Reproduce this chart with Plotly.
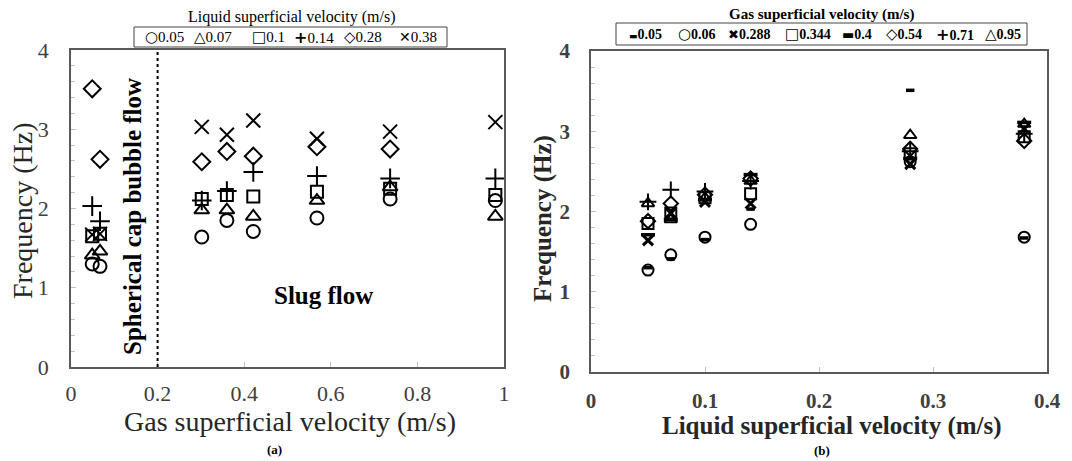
import plotly.graph_objects as go

# ---------------- data: panel (a) -- x = gas superficial velocity ----------------
gas_x_a = [0.049, 0.067, 0.302, 0.36, 0.421, 0.568, 0.737, 0.98]
liq_labels = ["0.05", "0.07", "0.1", "0.14", "0.28", "0.38"]
freq_liq_005 = [1.30, 1.27, 1.64, 1.85, 1.71, 1.88, 2.12, 2.10]
freq_liq_007 = [1.41, 1.46, 1.98, 1.98, 1.90, 2.10, 2.27, 1.90]
freq_liq_010 = [1.65, 1.68, 2.12, 2.17, 2.15, 2.21, 2.25, 2.17]
freq_liq_014 = [2.03, 1.84, 2.10, 2.22, 2.46, 2.41, 2.38, 2.38]
freq_liq_028 = [3.51, 2.62, 2.59, 2.72, 2.66, 2.78, 2.75, None]
freq_liq_038 = [1.67, 1.68, 3.03, 2.93, 3.11, 2.88, 2.97, 3.09]

# ---------------- data: panel (b) -- x = liquid superficial velocity ----------------
liq_x_b = [0.05, 0.07, 0.1, 0.14, 0.28, 0.38]
gas_labels = ["0.05", "0.06", "0.288", "0.344", "0.4", "0.54", "0.71", "0.95"]
freq_gas_005 = [1.30, 1.41, 1.65, 2.03, 3.51, 1.67]
freq_gas_006 = [1.27, 1.46, 1.68, 1.84, 2.62, 1.68]
freq_gas_0288 = [1.64, 1.98, 2.12, 2.10, 2.59, 3.03]
freq_gas_0344 = [1.85, 1.98, 2.17, 2.22, 2.72, 2.93]
freq_gas_04 = [1.71, 1.90, 2.15, 2.46, 2.66, 3.11]
freq_gas_054 = [1.88, 2.10, 2.21, 2.41, 2.78, 2.88]
freq_gas_071 = [2.12, 2.27, 2.25, 2.38, 2.75, 2.97]
freq_gas_095 = [2.10, 1.90, 2.17, 2.38, 2.95, 3.09]

SERIF = "Liberation Serif, Times New Roman, serif"
SYMF = "DejaVu Sans"
W, H = 1072, 461

fig = go.Figure()

series_a = [freq_liq_005, freq_liq_007, freq_liq_010, freq_liq_014, freq_liq_028, freq_liq_038]
symbols_a = ["circle-open", "triangle-up-open", "square-open", "cross-thin-open", "diamond-open", "x-thin-open"]
glyphs_a = ["○", "△", "□", "+", "◇", "✕"]
glyph_sizes_a = [15, 15, 15, 16, 15, 14]
sizes_a = [13, 13, 12, 14, 13, 14]
for lab, ys, sym, sz in zip(liq_labels, series_a, symbols_a, sizes_a):
    fig.add_trace(go.Scatter(
        x=gas_x_a, y=ys, mode="markers", name=lab,
        marker=dict(symbol=sym, size=sz, color="black", line=dict(color="black", width=2)),
        xaxis="x", yaxis="y"))

series_b = [freq_gas_005, freq_gas_006, freq_gas_0288, freq_gas_0344, freq_gas_04,
            freq_gas_054, freq_gas_071, freq_gas_095]
symbols_b = ["line-ew-open", "circle-open", "x-thin-open", "square-open", "line-ew-open",
             "diamond-open", "cross-thin-open", "triangle-up-open"]
glyphs_b = ["▬", "○", "✖", "□", "▬", "◇", "+", "△"]
glyph_sizes_b = [9, 15, 13, 15, 13, 15, 16, 15]
sizes_b = [6, 11, 10, 11, 10, 11, 12, 11]
widths_b = [3.5, 2, 3, 2, 3.5, 2, 2, 2]
for lab, ys, sym, sz, lw in zip(gas_labels, series_b, symbols_b, sizes_b, widths_b):
    fig.add_trace(go.Scatter(
        x=liq_x_b, y=ys, mode="markers", name=lab,
        marker=dict(symbol=sym, size=sz, color="black", line=dict(color="black", width=lw)),
        xaxis="x2", yaxis="y2"))


def px_x(p):
    return p / W


def px_y(p):
    return 1 - p / H


axis_common = dict(showgrid=False, zeroline=False, showline=True, mirror=True,
                   linecolor="#595959", linewidth=1.5, ticks="inside", ticklen=5,
                   tickcolor="#bfbfbf", tickwidth=1)

fig.update_layout(
    width=W, height=H, margin=dict(l=0, r=0, t=0, b=0, autoexpand=False),
    paper_bgcolor="white", plot_bgcolor="white", showlegend=False,
    font=dict(family=SERIF, color="black"),
    xaxis=dict(domain=[px_x(71), px_x(504)], range=[0, 1], dtick=0.2, anchor="y",
               tickfont=dict(family=SERIF, size=22, color="#404040"), ticklabelstandoff=6,
               **axis_common),
    yaxis=dict(domain=[px_y(367), px_y(50)], range=[0, 4], dtick=1, anchor="x",
               tickfont=dict(family=SERIF, size=22, color="#404040"), ticklabelstandoff=16,
               minor=dict(dtick=0.2, ticks="inside", ticklen=4, tickcolor="#bfbfbf"),
               **axis_common),
    xaxis2=dict(domain=[px_x(591), px_x(1047)], range=[0, 0.4], dtick=0.1, anchor="y2",
                tickformat=".1~f",
                tickfont=dict(family=SERIF, size=21, color="#404040", weight="bold"),
                ticklabelstandoff=9, **axis_common),
    yaxis2=dict(domain=[px_y(372), px_y(51)], range=[0, 4], dtick=1, anchor="x2",
                tickfont=dict(family=SERIF, size=21, color="#404040", weight="bold"),
                ticklabelstandoff=15,
                minor=dict(dtick=0.2, ticks="inside", ticklen=4, tickcolor="#bfbfbf"),
                **axis_common),
)

# regime boundary (dotted line at 0.2 m/s)
fig.add_shape(type="line", xref="x", yref="y", x0=0.2, x1=0.2, y0=0, y1=4,
              line=dict(color="black", width=2, dash="dot"))

# legend boxes
fig.add_shape(type="rect", xref="paper", yref="paper",
              x0=px_x(134), x1=px_x(447), y0=px_y(47), y1=px_y(27),
              line=dict(color="#444", width=1), fillcolor="white", layer="above")
fig.add_shape(type="rect", xref="paper", yref="paper",
              x0=px_x(616), x1=px_x(1027), y0=px_y(45), y1=px_y(23),
              line=dict(color="#444", width=1), fillcolor="white", layer="above")

# legend entries (layout positions of each entry, px from left)
leg_a_pos = [143, 192, 250, 292, 342, 397]
for g, gs, lab, xp in zip(glyphs_a, glyph_sizes_a, liq_labels, leg_a_pos):
    fig.add_annotation(
        xref="paper", yref="paper", x=px_x(xp), y=px_y(37), xanchor="left", yanchor="middle",
        showarrow=False,
        text=f'<span style="font-family:{SYMF};font-weight:bold;font-size:{gs}px">{g}</span>{lab}',
        font=dict(family=SERIF, size=15, color="black"))

leg_b_pos = [627, 676, 726, 783, 840, 884, 934, 983]
for g, gs, lab, xp in zip(glyphs_b, glyph_sizes_b, gas_labels, leg_b_pos):
    fig.add_annotation(
        xref="paper", yref="paper", x=px_x(xp), y=px_y(34), xanchor="left", yanchor="middle",
        showarrow=False,
        text=f'<span style="font-family:{SYMF};font-weight:bold;font-size:{gs}px">{g}</span><b>{lab}</b>',
        font=dict(family=SERIF, size=14, color="black"))

ann = [
    dict(text="Liquid superficial velocity (m/s)", x=px_x(292), y=px_y(17),
         font=dict(family=SERIF, size=16, color="black")),
    dict(text="<b>Gas superficial velocity (m/s)</b>", x=px_x(821), y=px_y(14),
         font=dict(family=SERIF, size=15, color="black")),
    dict(text="Gas superficial velocity (m/s)", x=px_x(290), y=px_y(421),
         font=dict(family=SERIF, size=28, color="#262626")),
    dict(text="<b>Liquid superficial velocity (m/s)</b>", x=px_x(832), y=px_y(426),
         font=dict(family=SERIF, size=25, color="#262626")),
    dict(text="Frequency (Hz)", x=px_x(22), y=px_y(211), textangle=-90,
         font=dict(family=SERIF, size=28, color="#262626")),
    dict(text="<b>Frequency (Hz)</b>", x=px_x(543), y=px_y(219), textangle=-90,
         font=dict(family=SERIF, size=25, color="#262626")),
    dict(text="<b>(a)</b>", x=px_x(274), y=px_y(449), font=dict(family=SERIF, size=13)),
    dict(text="<b>(b)</b>", x=px_x(822), y=px_y(450), font=dict(family=SERIF, size=13)),
    dict(text="<b>Spherical cap bubble flow</b>", x=px_x(132), y=px_y(217), textangle=-90,
         font=dict(family=SERIF, size=25, color="black")),
    dict(text="<b>Slug flow</b>", x=px_x(323), y=px_y(295),
         font=dict(family=SERIF, size=25, color="black")),
]
for a in ann:
    fig.add_annotation(xref="paper", yref="paper", showarrow=False,
                       xanchor="center", yanchor="middle", **a)

fig.write_html("out.html")
